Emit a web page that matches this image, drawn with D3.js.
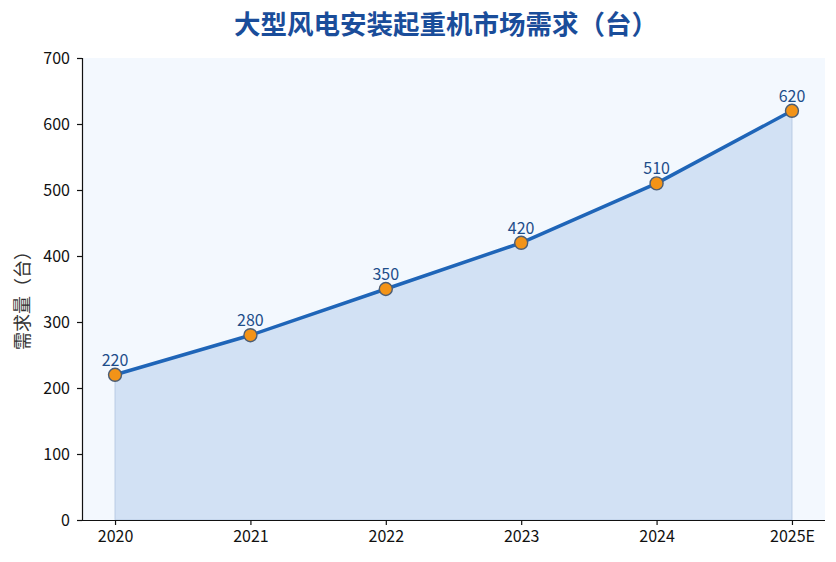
<!DOCTYPE html>
<html><head><meta charset="utf-8">
<script src="https://cdn.jsdelivr.net/npm/d3@7"></script>
<style>body{margin:0;background:#fff}svg{display:block}text{font-family:"Noto Sans CJK SC","Noto Sans",sans-serif}</style>
</head><body><svg id="c" width="836" height="562"></svg>
<script>
const categories = ["2020","2021","2022","2023","2024","2025E"];
const values = [220,280,350,420,510,620];
const yTicks = [0,100,200,300,400,500,600,700];
const title = "大型风电安装起重机市场需求（台）";
const yLabel = "需求量（台）";

const svg = d3.select("#c");
const L=82,R=825,T=58,B=520;
const x = d3.scalePoint().domain(categories).range([L,R]).padding(0.244);
const y = d3.scaleLinear().domain([0,700]).range([B,T]);

svg.append("rect").attr("x",L).attr("y",T).attr("width",R-L).attr("height",B-T).attr("fill","#f3f8fe");

const data = categories.map((c,i)=>({c,v:values[i]}));
svg.append("path").datum(data)
  .attr("d",d3.area().x(d=>x(d.c)).y0(y(0)).y1(d=>y(d.v)))
  .attr("fill","#d2e1f4").attr("stroke","#b8cbe4").attr("stroke-width",1);

svg.append("path").datum(data)
  .attr("d",d3.line().x(d=>x(d.c)).y(d=>y(d.v)))
  .attr("fill","none").attr("stroke","#1f65b8").attr("stroke-width",3.5).attr("stroke-linejoin","round");

svg.selectAll("circle.m").data(data).join("circle")
  .attr("cx",d=>x(d.c)).attr("cy",d=>y(d.v)).attr("r",6.5)
  .attr("fill","#f39317").attr("stroke","#4b5d75").attr("stroke-width",1.4);

svg.selectAll("text.lbl").data(data).join("text")
  .attr("x",d=>x(d.c)).attr("y",d=>y(d.v)-9)
  .attr("text-anchor","middle").attr("font-size",16).attr("fill","#1d4d8a")
  .text(d=>d.v);

const ya = svg.append("g").attr("transform",`translate(${L},0)`)
  .call(d3.axisLeft(y).tickValues(yTicks).tickSize(5).tickPadding(7));
const xa = svg.append("g").attr("transform",`translate(0,${B})`)
  .call(d3.axisBottom(x).tickSize(5).tickPadding(6));
xa.select(".domain").attr("d",`M${L},0.5H${R}`);
ya.select(".domain").attr("d",`M0.5,${T}V${B}`);
[ya,xa].forEach(a=>{a.selectAll("text").attr("font-size",16).attr("fill","#111").attr("font-family","'Noto Sans CJK SC','Noto Sans',sans-serif");
  a.selectAll("line,path").attr("stroke","#111").attr("stroke-width",1.2);});

svg.append("text").attr("x",446).attr("y",34).attr("text-anchor","middle")
  .attr("font-size",26.5).attr("font-weight","bold").attr("fill","#1a4d9a").text(title);

svg.append("text").attr("transform","translate(29,296) rotate(-90)")
  .attr("text-anchor","middle").attr("font-size",18).attr("fill","#333").text(yLabel);
</script></body></html>
